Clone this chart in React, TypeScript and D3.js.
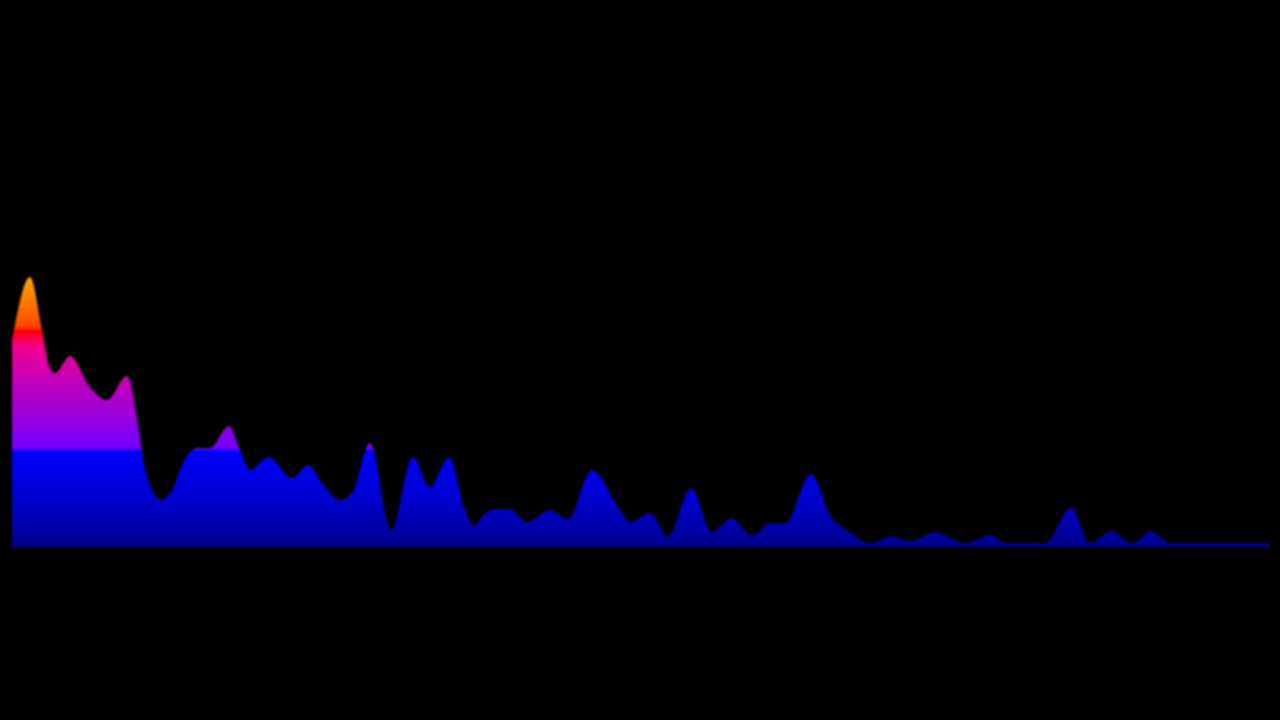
import React from "react";
import * as d3 from "d3";

// Frequency bin positions (arbitrary units, 0..1258)
const bins: number[] = [
  0, 18, 30, 38, 43, 58, 78, 95, 115, 128, 133, 150, 160, 171, 185, 198, 217, 228, 238, 257,
  280, 296, 310, 328, 340, 358, 379, 401, 418, 437, 453, 462, 473, 483, 498, 515, 538, 556, 580,
  608, 618, 638, 656, 679, 700, 719, 740, 758, 773, 799, 818, 838, 858, 880, 898, 923, 953, 979,
  993, 1033, 1059, 1078, 1099, 1121, 1139, 1158, 1258,
];

// Spectrum amplitude for each bin
const amplitude: number[] = [
  207, 270, 217, 179, 174, 191, 160, 147, 171, 110, 77, 47, 57, 84, 99, 99, 121, 97, 77, 90,
  69, 82, 64, 47, 54, 104, 17, 90, 60, 90, 37, 22, 34, 38, 38, 25, 37, 28, 77,
  37, 25, 34, 11, 59, 15, 29, 12, 24, 24, 73, 32, 15, 4, 11, 6, 15, 4, 12,
  4, 4, 39, 4, 16, 4, 16, 4, 4,
];

// Gradient stops (offset along amplitude, colour)
const gradOffsets: number[] = [0, 0.04, 0.18, 0.36, 0.365, 0.48, 0.62, 0.74, 0.78, 0.8, 0.82, 1];
const gradColors: string[] = [
  "#000088", "#00009c", "#0000d0", "#0000ff", "#7400ff", "#9a00e0", "#c400b8", "#f00090", "#ff0040",
  "#ff0000", "#ff4a00", "#ffa800",
];

export default function App() {
  const W = 1280;
  const H = 720;
  const x = d3.scaleLinear().domain([0, 1258]).range([12, 1270]);
  const y = d3.scaleLinear().domain([0, 270]).range([547, 277]);

  const data = bins.map((b, i) => ({ b, a: amplitude[i] }));
  const area = d3
    .area<{ b: number; a: number }>()
    .x((d) => x(d.b))
    .y0(y(0))
    .y1((d) => y(d.a))
    .curve(d3.curveMonotoneX);

  return (
    <svg
      width={W}
      height={H}
      style={{ position: "fixed", left: 0, top: 0, background: "#000", display: "block" }}
    >
      <defs>
        <linearGradient id="spec" gradientUnits="userSpaceOnUse" x1={0} x2={0} y1={y(0)} y2={y(270)}>
          {gradOffsets.map((o, i) => (
            <stop key={i} offset={o} stopColor={gradColors[i]} />
          ))}
        </linearGradient>
        <filter id="blur" x="-1%" y="-5%" width="102%" height="110%">
          <feGaussianBlur stdDeviation="0.8" />
        </filter>
      </defs>
      <rect x={0} y={0} width={W} height={H} fill="#000" />
      <path d={area(data) ?? ""} fill="url(#spec)" filter="url(#blur)" />
    </svg>
  );
}
